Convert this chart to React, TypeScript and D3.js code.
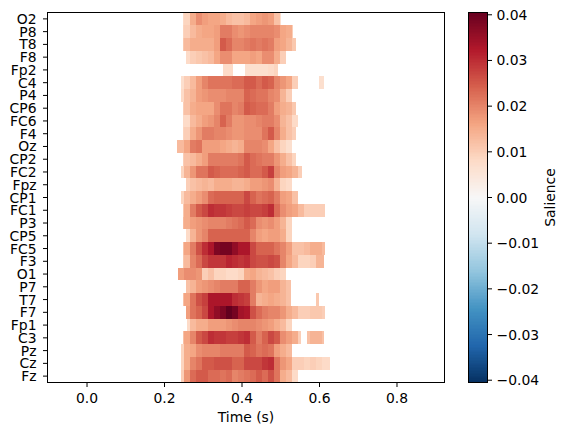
import React from "react";
import * as d3 from "d3";

const WIDTH = 568;
const HEIGHT = 435;

const channels = ["O2","P8","T8","F8","Fp2","C4","P4","CP6","FC6","F4","Oz","CP2","FC2","Fpz","CP1","FC1","P3","CP5","FC5","F3","O1","P7","T7","F7","Fp1","C3","Pz","Cz","Fz"];

const timeTicks = [0, 0.2, 0.4, 0.6, 0.8];
const colorTicks = [0.04, 0.03, 0.02, 0.01, 0, -0.01, -0.02, -0.03, -0.04];
const rdBu = ["#053061","#2166ac","#4393c3","#92c5de","#d1e5f0","#f7f7f7","#fddbc7","#f4a582","#d6604d","#b2182b","#67001f"];

const binStart = 0.2335;
const binWidth = 0.0155;

// Salience in thousandths, one row per channel, one entry per time bin.
const salience = [
[8,9,15,19,17,16,16,15,13,12,12,13,16,17,18,17,12,7],
[9,10,13,15,16,16,17,21,21,19,18,19,20,20,20,20,19,16,15,10],
[11,13,15,15,15,15,17,25,23,20,20,21,22,21,22,21,17,16,14,11],
[0,8,10,11,12,13,16,19,19,16,16,16,17,16,19,19,15,10],
[0,0,0,0,0,0,0,8,8,8,0,7,7,7,7,8,9,9,9],
[7,10,13,17,20,22,22,22,22,23,23,25,25,23,25,24,20,18,16,10,0,0,0,7,7],
[8,12,14,17,18,19,19,19,20,20,20,24,23,22,22,20,19,14,10],
[10,12,15,16,16,16,19,22,22,20,21,25,24,23,23,21,17,15,14,11],
[8,8,13,15,17,18,20,24,21,18,18,19,19,20,21,21,19,14,12,8],
[9,10,15,18,21,21,20,20,19,18,18,19,19,19,22,25,20,15,12,10],
[13,16,21,22,17,17,17,16,15,14,15,20,20,20,19,16,12,9,7],
[10,12,13,15,17,21,21,21,21,21,22,25,23,22,21,21,18,15,12,9],
[9,14,18,22,22,25,24,23,23,23,24,25,23,23,25,28,20,17,16,14,10],
[0,10,12,13,14,13,15,15,15,14,14,15,17,17,18,19,14,9,8],
[9,13,15,17,19,23,24,24,24,24,24,27,24,22,23,24,21,17,16,12],
[11,15,21,25,27,30,29,29,28,27,27,28,27,27,28,30,23,19,17,16,13,10,10,10,10],
[13,15,17,18,19,20,20,20,21,22,23,25,23,19,18,19,17,14,9],
[0,8,14,18,20,24,24,24,24,24,24,24,20,17,16,17,17,15,9],
[12,16,21,26,30,33,38,39,39,36,33,33,27,24,24,24,22,20,17,12,12,13,15,15,13],
[11,13,20,23,27,29,29,29,31,30,29,30,27,26,26,27,26,20,16,13,9,9,10,14,14],
[17,19,19,18,10,12,9,9,8,8,9,15,16,14,13,12,10,9],
[0,12,14,17,18,19,20,21,21,21,24,24,21,18,16,17,17,14,12],
[12,16,22,26,28,33,33,33,33,30,29,28,21,14,15,16,15,14,12,0,0,0,0,11],
[0,17,22,24,27,33,36,38,41,39,34,33,26,23,21,20,20,18,15,13,10,10,11,11,10],
[0,8,13,15,15,17,17,17,18,19,20,20,20,19,18,17,15,13,9],
[12,16,20,25,27,30,29,29,28,28,29,30,25,21,24,27,25,19,17,15,10,12,14,14,12],
[9,15,16,19,20,20,20,21,21,21,21,25,24,22,23,22,17,15,13],
[9,15,20,22,25,25,26,26,26,24,24,27,27,27,29,30,22,18,16,10,10,9,10,9,8,8],
[10,18,23,25,25,23,23,22,23,20,21,22,23,25,23,26,22,15,13,8],
];

// Time spans (seconds) that survive the mask, per channel.
const spans = [
[[0.2465,0.5015]],
[[0.2465,0.5305]],
[[0.2465,0.5405]],
[[0.2545,0.5125]],
[[0.3522,0.3780],[0.4090,0.4940]],
[[0.2415,0.5535],[0.5975,0.6105]],
[[0.2415,0.5380]],
[[0.2465,0.5405]],
[[0.2465,0.5460]],
[[0.2465,0.5405]],
[[0.2335,0.5330]],
[[0.2465,0.5405]],
[[0.2415,0.5560]],
[[0.2545,0.5330]],
[[0.2415,0.5460]],
[[0.2465,0.6130]],
[[0.2465,0.5305]],
[[0.2545,0.5305]],
[[0.2465,0.6130]],
[[0.2465,0.6105]],
[[0.2360,0.5175]],
[[0.2545,0.5255]],
[[0.2465,0.5255],[0.5900,0.5975]],
[[0.2545,0.6130]],
[[0.2570,0.5305]],
[[0.2465,0.5535],[0.5665,0.6105]],
[[0.2415,0.5380]],
[[0.2415,0.6260]],
[[0.2415,0.5485]],
];

const margin = { left: 47.5, right: 444.5, top: 12.5, bottom: 382.5 };
const cbar = { left: 468.5, right: 487.5 };
const vMax = 0.0405;
const fontFamily = "DejaVu Sans";
const fontSize = 13.9;

const x = d3.scaleLinear().domain([-0.102, 0.9226]).range([margin.left, margin.right]);
const y = d3.scaleBand<string>().domain(channels).range([margin.top, margin.bottom]);
const cy = d3.scaleLinear().domain([-vMax, vMax]).range([margin.bottom, margin.top]);
const color = d3
  .scaleLinear<string>()
  .domain(rdBu.map((_, i) => -vMax + (2 * vMax * i) / (rdBu.length - 1)))
  .range(rdBu)
  .interpolate(d3.interpolateRgb);

const fmt = (v: number) => (v < 0 ? "\u2212" : "") + Math.abs(v).toFixed(2);
const cbarSteps = d3.range(256).map((i) => -vMax + ((i + 0.5) * 2 * vMax) / 256);

export default function App() {
  const cells: React.ReactNode[] = [];
  salience.forEach((row, r) => {
    row.forEach((v, k) => {
      if (!v) return;
      const t0 = binStart + k * binWidth;
      const t1 = t0 + binWidth;
      spans[r].forEach(([a, b], s) => {
        const lo = Math.max(a, t0);
        const hi = Math.min(b, t1);
        if (hi <= lo) return;
        cells.push(
          <rect
            key={`${r}-${k}-${s}`}
            x={x(lo)}
            y={y(channels[r])!}
            width={x(hi) - x(lo)}
            height={y.bandwidth()}
            fill={color(v / 1000)}
            shapeRendering="crispEdges"
          />
        );
      });
    });
  });

  return (
    <svg
      width={WIDTH}
      height={HEIGHT}
      style={{ position: "absolute", left: 0, top: 0, background: "#fff" }}
      fontFamily={fontFamily}
      fontSize={fontSize}
    >
      {cells}
      <rect x={margin.left} y={margin.top} width={margin.right - margin.left} height={margin.bottom - margin.top} fill="none" stroke="#000" />
      {channels.map((c) => {
        const py = y(c)! + y.bandwidth() / 2;
        return (
          <g key={c}>
            <line x1={margin.left - 4.5} x2={margin.left} y1={py} y2={py} stroke="#000" />
            <text x={margin.left - 11} y={py + 5} textAnchor="end" fill="#000">{c}</text>
          </g>
        );
      })}
      {timeTicks.map((t) => (
        <g key={t}>
          <line x1={x(t)} x2={x(t)} y1={margin.bottom} y2={margin.bottom + 4.5} stroke="#000" />
          <text x={x(t)} y={margin.bottom + 20} textAnchor="middle" fill="#000">{t.toFixed(1)}</text>
        </g>
      ))}
      <text x={(margin.left + margin.right) / 2} y={422} textAnchor="middle" fill="#000">Time (s)</text>

      {cbarSteps.map((v) => (
        <rect
          key={v}
          x={cbar.left}
          y={cy(v) - (margin.bottom - margin.top) / 512 - 0.3}
          width={cbar.right - cbar.left}
          height={(margin.bottom - margin.top) / 256 + 0.6}
          fill={color(v)}
          shapeRendering="crispEdges"
        />
      ))}
      <rect x={cbar.left} y={margin.top} width={cbar.right - cbar.left} height={margin.bottom - margin.top} fill="none" stroke="#000" />
      {colorTicks.map((v) => (
        <g key={v}>
          <line x1={cbar.right} x2={cbar.right + 4.5} y1={cy(v)} y2={cy(v)} stroke="#000" />
          <text x={cbar.right + 9} y={cy(v) + 5} fill="#000">{fmt(v)}</text>
        </g>
      ))}
      <text transform={`translate(555,${(margin.top + margin.bottom) / 2}) rotate(-90)`} textAnchor="middle" fill="#000">Salience</text>
    </svg>
  );
}
